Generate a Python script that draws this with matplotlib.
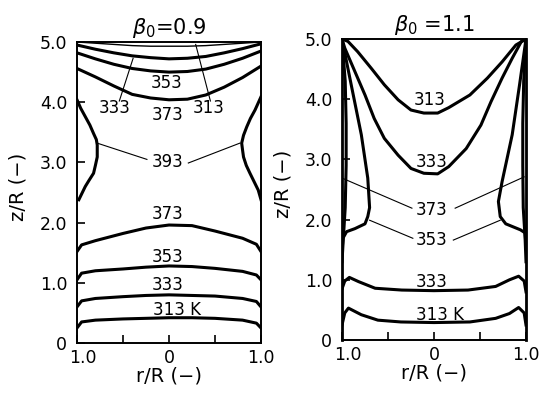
import matplotlib
matplotlib.use('Agg')
import matplotlib.pyplot as plt
from matplotlib.transforms import ScaledTranslation

# ---- beta0 = 0.9 (left) ----
r_low_a = [-1.0, -0.95, -0.8, -0.5, -0.25, 0.0, 0.25, 0.5, 0.8, 0.95, 1.0]
z_313_low_a = [0.25, 0.35, 0.38, 0.40, 0.41, 0.42, 0.42, 0.41, 0.38, 0.33, 0.25]
z_333_low_a = [0.60, 0.70, 0.74, 0.77, 0.79, 0.80, 0.79, 0.78, 0.74, 0.69, 0.60]
z_353_low_a = [1.05, 1.16, 1.20, 1.23, 1.26, 1.28, 1.27, 1.24, 1.19, 1.13, 1.05]
z_373_low_a = [1.52, 1.63, 1.70, 1.82, 1.91, 1.96, 1.95, 1.86, 1.74, 1.64, 1.52]

r_top_a = [-1.0, -0.8, -0.6, -0.4, -0.2, 0.0, 0.2, 0.4, 0.6, 0.8, 1.0]
z_373_top_a = [4.56, 4.42, 4.27, 4.13, 4.07, 4.04, 4.05, 4.12, 4.25, 4.41, 4.60]
z_353_top_a = [4.82, 4.72, 4.63, 4.56, 4.52, 4.50, 4.51, 4.55, 4.63, 4.73, 4.85]
z_333_top_a = [4.95, 4.88, 4.82, 4.77, 4.74, 4.72, 4.73, 4.76, 4.82, 4.89, 4.97]
z_313_top_a = [5.0, 4.98, 4.96, 4.94, 4.93, 4.93, 4.93, 4.94, 4.96, 4.98, 5.0]

r_393_l = [-1.0, -0.96, -0.91, -0.86, -0.82, -0.79, -0.78, -0.78, -0.80, -0.82, -0.87, -0.91, -0.98]
z_393_l = [4.04, 3.90, 3.76, 3.62, 3.48, 3.38, 3.29, 3.09, 2.95, 2.82, 2.70, 2.60, 2.38]
r_393_r = [1.0, 0.935, 0.885, 0.845, 0.81, 0.79, 0.80, 0.81, 0.84, 0.88, 0.97, 1.0]
z_393_r = [4.09, 3.87, 3.73, 3.59, 3.45, 3.32, 3.20, 3.09, 2.95, 2.82, 2.54, 2.38]

labels_a = ['333', '313', '353', '373', '393', '373', '353', '333', '313 K']
lab_r_a = [-0.59, 0.43, -0.03, -0.02, -0.02, -0.02, -0.02, -0.02, 0.09]
lab_z_a = [3.90, 3.90, 4.32, 3.79, 3.00, 2.14, 1.43, 0.96, 0.55]

lead_r_a = [[-0.54, -0.39], [0.45, 0.29], [-0.78, -0.24], [0.21, 0.77]]
lead_z_a = [[4.02, 4.73], [4.02, 4.96], [3.32, 3.05], [2.99, 3.32]]

# ---- beta0 = 1.1 (right) ----
r_313_top_b = [-1.0, -0.935, -0.83, -0.68, -0.54, -0.39, -0.25, -0.11, 0.04, 0.16, 0.39, 0.58, 0.74, 0.89, 1.0]
z_313_top_b = [5.0, 4.96, 4.79, 4.51, 4.24, 3.99, 3.82, 3.77, 3.77, 3.86, 4.07, 4.35, 4.62, 4.90, 5.0]
r_333_top_b = [-1.0, -0.97, -0.86, -0.75, -0.65, -0.54, -0.39, -0.25, -0.11, 0.04, 0.16, 0.35, 0.51,
               0.62, 0.74, 0.85, 0.95, 1.0]
z_333_top_b = [5.0, 4.85, 4.46, 4.07, 3.68, 3.35, 3.07, 2.85, 2.77, 2.76, 2.88, 3.18, 3.57,
               3.96, 4.35, 4.68, 4.96, 5.0]

r_353_l = [-1.0, -0.9, -0.79, -0.72, -0.70, -0.72, -0.75, -0.86, -0.95, -0.99, -1.0]
z_353_l = [5.0, 4.24, 3.41, 2.69, 2.20, 2.05, 1.93, 1.85, 1.80, 1.69, 1.45]
r_353_r = [1.0, 0.93, 0.85, 0.74, 0.70, 0.72, 0.78, 0.86, 0.94, 0.99, 1.0]
z_353_r = [5.0, 4.24, 3.41, 2.63, 2.30, 2.05, 1.93, 1.88, 1.83, 1.78, 1.55]

r_373_l = [-1.0, -0.965, -0.955, -0.955, -0.965, -0.985, -1.0]
r_373_r = [1.0, 0.975, 0.965, 0.965, 0.97, 0.99, 1.0]
z_373_b = [5.0, 4.3, 3.6, 2.9, 2.2, 1.7, 1.3]

r_333_low_b = [-1.0, -0.97, -0.92, -0.82, -0.64, -0.35, 0.0, 0.37, 0.67, 0.82, 0.92, 0.98, 1.0]
z_333_low_b = [0.85, 0.98, 1.04, 0.97, 0.86, 0.83, 0.82, 0.83, 0.89, 1.00, 1.06, 0.98, 0.80]
r_313_low_b = [-1.0, -0.97, -0.93, -0.79, -0.61, -0.36, 0.0, 0.39, 0.67, 0.82, 0.92, 0.98, 1.0]
z_313_low_b = [0.25, 0.45, 0.53, 0.42, 0.33, 0.30, 0.29, 0.30, 0.36, 0.44, 0.54, 0.45, 0.25]

labels_b = ['313', '333', '373', '353', '333', '313 K']
lab_r_b = [-0.05, -0.03, -0.03, -0.03, -0.03, 0.06]
lab_z_b = [3.99, 2.96, 2.16, 1.66, 0.97, 0.42]

lead_r_b = [[-1.0, -0.24], [0.23, 0.98], [-0.70, -0.23], [0.21, 0.72]]
lead_z_b = [[2.69, 2.19], [2.19, 2.71], [1.99, 1.69], [1.66, 1.99]]

titles = [r'$\beta_0$=0.9', r'$\beta_0$ =1.1']

lw = 2.2
fig = plt.figure(figsize=(5.4, 3.94), dpi=100)
ax1 = fig.add_axes([77/540, 0.1294, 184/540, 0.764])
ax2 = fig.add_axes([342/540, 0.137, 184/540, 0.764])

for z in [z_313_low_a, z_333_low_a, z_353_low_a, z_373_low_a]:
    ax1.plot(r_low_a, z, color='black', lw=lw)
for z in [z_373_top_a, z_353_top_a, z_333_top_a]:
    ax1.plot(r_top_a, z, color='black', lw=lw)
ax1.plot(r_top_a, z_313_top_a, color='black', lw=1.0)
ax1.plot(r_393_l, z_393_l, color='black', lw=lw)
ax1.plot(r_393_r, z_393_r, color='black', lw=lw)
for rr, zz in zip(lead_r_a, lead_z_a):
    ax1.plot(rr, zz, color='black', lw=0.8)
for t, x, y in zip(labels_a, lab_r_a, lab_z_a):
    ax1.text(x, y, t, ha='center', va='center', fontsize=12)

ax2.plot(r_313_top_b, z_313_top_b, color='black', lw=lw)
ax2.plot(r_333_top_b, z_333_top_b, color='black', lw=lw)
ax2.plot(r_353_l, z_353_l, color='black', lw=lw)
ax2.plot(r_353_r, z_353_r, color='black', lw=lw)
ax2.plot(r_373_l, z_373_b, color='black', lw=lw)
ax2.plot(r_373_r, z_373_b, color='black', lw=lw)
ax2.plot(r_333_low_b, z_333_low_b, color='black', lw=lw)
ax2.plot(r_313_low_b, z_313_low_b, color='black', lw=lw)
for rr, zz in zip(lead_r_b, lead_z_b):
    ax2.plot(rr, zz, color='black', lw=0.8)
for t, x, y in zip(labels_b, lab_r_b, lab_z_b):
    ax2.text(x, y, t, ha='center', va='center', fontsize=12)

for ax, title in zip([ax1, ax2], titles):
    ax.set_xlim(-1, 1)
    ax.set_ylim(0, 5)
    ax.set_xticks([-1, 0, 1])
    ax.set_xticklabels(['1.0', '0', '1.0'])
    ax.set_xticks([-0.5, 0.5], minor=True)
    ax.set_yticks([0, 1, 2, 3, 4, 5])
    ax.set_yticklabels(['0', '1.0', '2.0', '3.0', '4.0', '5.0'])
    ax.tick_params(which='both', direction='in', length=6, width=1.2,
                   labelsize=12.5, top=False, right=False)
    ax.tick_params(axis='y', pad=7)
    ax.tick_params(axis='x', pad=4)
    for s in ax.spines.values():
        s.set_linewidth(1.4)
    ax.set_title(title, fontsize=15, pad=6)
    ax.set_xlabel('r/R (−)', fontsize=14, labelpad=0)
    ax.set_ylabel('z/R (−)', fontsize=14)
    ax.yaxis.set_label_coords(-0.27, 0.52)
    # first x label sits a little right of the corner
    lab = ax.get_xticklabels()[0]
    lab.set_transform(lab.get_transform() + ScaledTranslation(4/72, 0, fig.dpi_scale_trans))

ax2.spines['left'].set_linewidth(2.0)
ax2.spines['right'].set_linewidth(2.0)

fig.savefig('out.png', dpi=100)
